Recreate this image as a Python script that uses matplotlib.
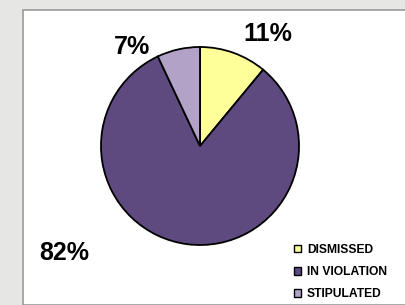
import matplotlib
matplotlib.use('Agg')
import matplotlib.pyplot as plt
from matplotlib.patches import Rectangle

# data
categories = ['DISMISSED', 'IN VIOLATION', 'STIPULATED']
shares = [11, 82, 7]
colours = ['#ffff99', '#5e4a7e', '#b3a2c7']

W, H = 405, 305
fig = plt.figure(figsize=(W / 100, H / 100), dpi=100)
fig.patch.set_facecolor('#e6e6e4')

# white chart panel
fig.patches.append(Rectangle((23 / W, 0), 1, (H - 10) / H, transform=fig.transFigure,
                             facecolor='white', edgecolor='#9a9a9a', linewidth=1.2, zorder=-5))

# pie axes: centre (200, 146), radius 100 px
cx, cy, r = 200, 146, 100
ax = fig.add_axes([(cx - r) / W, (H - cy - r) / H, 2 * r / W, 2 * r / H])
ax.set_zorder(2)
wedges, _ = ax.pie(shares, colors=colours, startangle=90, counterclock=False,
                   wedgeprops=dict(edgecolor='black', linewidth=1.3))
ax.set_xlim(-1.01, 1.01)
ax.set_ylim(-1.01, 1.01)
ax.set_aspect('equal')
ax.axis('off')

# percentage labels
label_pos = [(268, 34), (64, 253), (132, 47)]
for (px, py), v in zip(label_pos, shares):
    fig.text(px / W, 1 - py / H, '%d%%' % v, fontsize=18, fontweight='bold',
             ha='center', va='center', family=['Liberation Sans', 'DejaVu Sans'], zorder=3)

# legend
leg = fig.legend(wedges, categories, loc='upper left', bbox_to_anchor=(289 / W, 1 - 239 / H),
                 frameon=False, handlelength=0.6, handleheight=0.6, handletextpad=0.5,
                 labelspacing=0.85, borderaxespad=0,
                 prop=dict(family=['Liberation Sans', 'DejaVu Sans'], weight='bold', size=8.7))
leg.set_zorder(3)
for h in leg.legend_handles:
    h.set_linewidth(1.0)

fig.savefig('out.png', dpi=100)
